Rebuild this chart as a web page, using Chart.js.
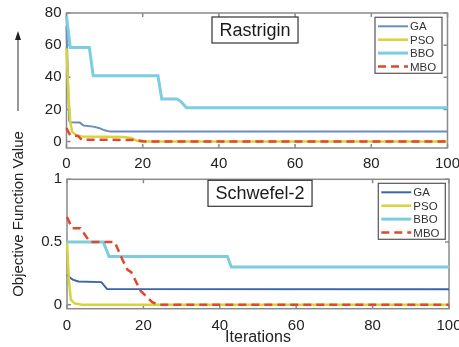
<!DOCTYPE html>
<html>
<head>
<meta charset="utf-8">
<script src="https://cdn.jsdelivr.net/npm/chart.js"></script>
<style>
  html, body { margin: 0; padding: 0; background: #fff; }
  #wrap { position: relative; width: 459px; height: 347px; overflow: hidden; }
  canvas { position: absolute; left: 0; }
  #top { top: 0; }
  #bottom { top: 172px; }
  #ylabel {
    position: absolute; left: -82px; top: 205px; width: 200px; height: 18px;
    line-height: 18px; text-align: center; transform: rotate(-90deg);
    font: 15px "Liberation Sans", Arial, sans-serif; color: #222;
  }
  #arrow { position: absolute; left: 12px; top: 31px; }
</style>
</head>
<body>
<div id="wrap">
  <canvas id="top" width="459" height="172"></canvas>
  <canvas id="bottom" width="459" height="175"></canvas>
  <svg id="arrow" width="12" height="82">
    <line x1="6" y1="6" x2="6" y2="80" stroke="#333" stroke-width="1"/>
    <polygon points="6,0 3,9 9,9" fill="#222"/>
  </svg>
  <div id="ylabel">Objective Function Value</div>
</div>
<script>
// series names and x ticks
const algos = ["GA", "PSO", "BBO", "MBO"];
const xTicks = [0, 20, 40, 60, 80, 100];

// Rastrigin: [iteration, objective value]
const rastGA  = [[0,72],[0.7,13],[1,12],[3.5,11.8],[4.5,10],[7,9.3],[8.5,8.5],[10,7],[11.5,6.2],[100,6.2]];
const rastPSO = [[0,58],[0.5,30],[1,12],[1.5,6],[2.5,4],[4,3.2],[10,3],[15,2.8],[17,2.2],[18.5,0.5],[19.5,0],[100,0]];
const rastBBO = [[0,78],[1,58.5],[6,58.5],[7,41],[24,41],[25,26.5],[29,26.5],[30,25],[31.5,21],[100,21]];
const rastMBO = [[0,8.5],[0.6,5.5],[1,4],[3,3.5],[4,1.2],[18,1],[20,0.2],[22,0],[100,0]];
const rastYTicks = [0, 20, 40, 60, 80];

// Schwefel-2
const schGA  = [[0,0.24],[0.5,0.223],[1.5,0.2],[3,0.185],[9,0.18],[10.5,0.125],[100,0.123]];
const schPSO = [[0,0.5],[0.5,0.2],[1,0.04],[2,0.01],[4,0],[100,0]];
const schBBO = [[0,0.5],[9.5,0.5],[11,0.385],[42,0.385],[43,0.3],[100,0.3]];
const schMBO = [[0,0.7],[1.3,0.61],[3.5,0.61],[6,0.5],[12.5,0.5],[14.5,0.36],[15.8,0.28],[16.8,0.26],[19.3,0.11],[22.3,0.02],[24,0],[100,0]];
const schYTicks = [0, 0.5, 1];

const FONT = '"Liberation Sans", Arial, sans-serif';
const BOX = '#8a8a8a';

const framePlugin = {
  id: 'frame',
  beforeDatasetsDraw(chart) {
    const { ctx, chartArea: a, scales: { x, y } } = chart;
    ctx.save();
    ctx.strokeStyle = BOX;
    ctx.lineWidth = 1.5;
    ctx.strokeRect(a.left, a.top, a.width, a.height);
    ctx.beginPath();
    x.ticks.forEach(t => {
      const px = x.getPixelForValue(t.value);
      ctx.moveTo(px, a.bottom); ctx.lineTo(px, a.bottom - 4);
      ctx.moveTo(px, a.top); ctx.lineTo(px, a.top + 4);
    });
    y.ticks.forEach(t => {
      const py = y.getPixelForValue(t.value);
      ctx.moveTo(a.left, py); ctx.lineTo(a.left + 4, py);
      ctx.moveTo(a.right, py); ctx.lineTo(a.right - 4, py);
    });
    ctx.stroke();
    ctx.restore();
  },
  afterDraw(chart, args, opts) {
    const { ctx, chartArea: a } = chart;
    ctx.save();
    // title box
    ctx.font = '18px ' + FONT;
    const tw = ctx.measureText(opts.title).width;
    const bx = a.left + opts.titleX, by = a.top + opts.titleY;
    ctx.fillStyle = '#fff';
    ctx.fillRect(bx, by, tw + 15, 26);
    ctx.strokeStyle = '#333';
    ctx.lineWidth = 1.2;
    ctx.strokeRect(bx, by, tw + 15, 26);
    ctx.fillStyle = '#1a1a1a';
    ctx.textBaseline = 'middle';
    ctx.fillText(opts.title, bx + 7.5, by + 14);

    // legend
    const lx = a.left + opts.legX, ly = a.top + opts.legY;
    ctx.fillStyle = '#fff';
    ctx.fillRect(lx, ly, 67, 56);
    ctx.strokeStyle = '#555';
    ctx.lineWidth = 1.2;
    ctx.strokeRect(lx, ly, 67, 56);
    ctx.font = '11.5px ' + FONT;
    chart.data.datasets.forEach((ds, i) => {
      const ry = ly + 9 + i * 13.4;
      ctx.strokeStyle = ds.borderColor;
      ctx.lineWidth = ds.borderWidth;
      ctx.setLineDash(ds.borderDash || []);
      ctx.beginPath();
      ctx.moveTo(lx + 3, ry); ctx.lineTo(lx + 33, ry);
      ctx.stroke();
      ctx.setLineDash([]);
      ctx.fillStyle = '#333';
      ctx.fillText(ds.label, lx + 35, ry + 1);
    });
    ctx.restore();
  }
};

function toPts(arr) { return arr.map(p => ({ x: p[0], y: p[1] })); }

function makeChart(id, series, gaColor, y, layout) {
  const colors = [gaColor, '#d8d33c', '#7ccde0', '#e2462c'];
  const widths = [2, 2.5, 3, 2.5];
  return new Chart(document.getElementById(id), {
    type: 'line',
    data: {
      datasets: series.map((s, i) => ({
        label: algos[i],
        data: toPts(s),
        borderColor: colors[i],
        borderWidth: widths[i],
        borderDash: i === 3 ? [8, 5] : undefined,
        pointRadius: 0,
        tension: 0,
        clip: 4,
        order: 4 - i
      }))
    },
    options: {
      responsive: false,
      animation: false,
      events: [],
      layout: { padding: layout.padding },
      plugins: {
        legend: { display: false },
        tooltip: { enabled: false },
        frame: layout.frame
      },
      scales: {
        x: {
          type: 'linear', min: 0, max: 100,
          afterBuildTicks: s => { s.ticks = xTicks.map(v => ({ value: v })); },
          afterFit: s => { s.height = layout.xHeight; s.paddingLeft = 0; s.paddingRight = 0; },
          grid: { display: false, drawTicks: false },
          border: { display: false },
          ticks: { padding: layout.xPad, color: '#222', font: { family: FONT, size: 15 }, callback: v => String(v) },
          title: layout.xTitle || { display: false }
        },
        y: {
          type: 'linear', min: y.min, max: y.max,
          afterBuildTicks: s => { s.ticks = y.ticks.map(v => ({ value: v })); },
          afterFit: s => { s.width = layout.yWidth; s.paddingTop = 0; s.paddingBottom = 0; },
          grid: { display: false, drawTicks: false },
          border: { display: false },
          ticks: { padding: 5, color: '#222', font: { family: FONT, size: 15 }, callback: v => String(v) }
        }
      }
    },
    plugins: [framePlugin]
  });
}

makeChart('top', [rastGA, rastPSO, rastBBO, rastMBO], '#6a8dbd',
  { min: -4, max: 80, ticks: rastYTicks },
  {
    padding: { top: 13, right: 11.5, left: 0, bottom: 0 },
    xHeight: 24, yWidth: 66.5, xPad: 7,
    frame: { title: 'Rastrigin', titleX: 145.5, titleY: 4, legX: 308.5, legY: 4.3 }
  });

makeChart('bottom', [schGA, schPSO, schBBO, schMBO], '#3a64ad',
  { min: -0.032, max: 1, ticks: schYTicks },
  {
    padding: { top: 7.3, right: 10, left: 0, bottom: 0 },
    xHeight: 38.3, yWidth: 67, xPad: 8,
    xTitle: { display: true, text: 'Iterations', color: '#222', padding: { top: 0, bottom: 0 }, font: { family: FONT, size: 16 } },
    frame: { title: 'Schwefel-2', titleX: 141, titleY: 1, legX: 311.3, legY: 4 }
  });
</script>
</body>
</html>
